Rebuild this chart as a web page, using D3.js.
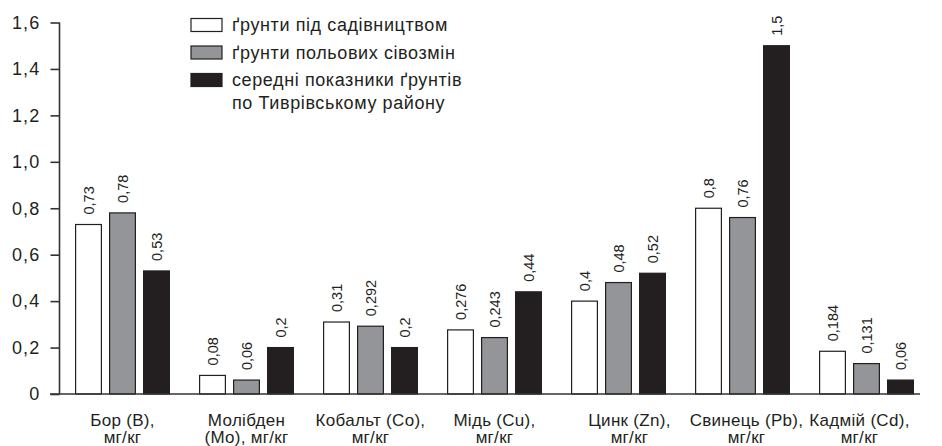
<!DOCTYPE html>
<html><head><meta charset="utf-8">
<script src="https://cdn.jsdelivr.net/npm/d3@7"></script>
<style>
html,body{margin:0;padding:0;background:#fff;}
svg{display:block;}
text{font-family:"Liberation Sans",Arial,sans-serif;fill:#231f20;}
</style></head><body>
<svg id="c" width="942" height="446"></svg>
<script>
const categories = [
  ["Бор (B),", "мг/кг"],
  ["Молібден", "(Mo), мг/кг"],
  ["Кобальт (Co),", "мг/кг"],
  ["Мідь (Cu),", "мг/кг"],
  ["Цинк (Zn),", "мг/кг"],
  ["Свинець (Pb),", "мг/кг"],
  ["Кадмій (Cd),", "мг/кг"]
];
const seriesNames = [
  ["ґрунти під садівництвом"],
  ["ґрунти польових сівозмін"],
  ["середні показники ґрунтів", "по Тиврівському району"]
];
const gardenSoils = [0.73, 0.08, 0.31, 0.276, 0.4, 0.8, 0.184];
const fieldSoils = [0.78, 0.06, 0.292, 0.243, 0.48, 0.76, 0.131];
const districtAvg = [0.53, 0.2, 0.2, 0.44, 0.52, 1.5, 0.06];
const yTicks = [0, 0.2, 0.4, 0.6, 0.8, 1.0, 1.2, 1.4, 1.6];

const series = [gardenSoils, fieldSoils, districtAvg];
const fills = ["#ffffff", "#939598", "#231f20"];
const ink = "#231f20";
// layout: horizontal nudges of category labels (pixels)
const labelNudge = [0, 0, 0, 0, 11, 4, -7];

const svg = d3.select("#c");
const y = d3.scaleLinear().domain([0, 1.6]).range([394, 22.5]);
const x0 = d3.scaleBand().domain(d3.range(categories.length)).range([60.5, 928.5])
  .paddingInner(29/124).paddingOuter(0.5*29/124);
const x1 = d3.scaleBand().domain([0,1,2]).range([0, x0.bandwidth()]).paddingInner(7/34).paddingOuter(0);

const fmt = v => String(v).replace(".", ",");

// y axis
const yAxis = d3.axisLeft(y).tickValues(yTicks).tickSize(9).tickPadding(10)
  .tickFormat(d => d === 0 ? "0" : d3.format(".1f")(d).replace(".", ","));
const gy = svg.append("g").attr("transform", "translate(59.5,0)").call(yAxis);
gy.select(".domain").attr("stroke", "#333").attr("stroke-width", 1.6).attr("d", `M0,${y(1.6)}V${y(0)}`);
gy.selectAll(".tick line").attr("stroke", "#333").attr("stroke-width", 1.6);
gy.selectAll(".tick text").attr("font-size", 18).attr("letter-spacing", "1.2px")
  .attr("font-family", "Liberation Sans, Arial, sans-serif").attr("fill", ink);

// bars
const groups = svg.append("g").selectAll("g").data(categories).join("g")
  .attr("transform", (d, i) => `translate(${x0(i)},0)`);
groups.each(function(c, i) {
  const g = d3.select(this);
  series.forEach((s, k) => {
    const v = s[i];
    g.append("rect")
      .attr("x", x1(k) + 0.6).attr("width", x1.bandwidth() - 1.2)
      .attr("y", y(v)).attr("height", y(0) - y(v))
      .attr("fill", fills[k]).attr("stroke", ink).attr("stroke-width", 1.2);
    const cx = x1(k) + x1.bandwidth() / 2;
    g.append("text")
      .attr("transform", `translate(${cx + 5},${y(v) - 10}) rotate(-90)`)
      .attr("font-size", 14.5).attr("text-anchor", "start")
      .text(fmt(v));
  });
});

// x baseline
svg.append("line").attr("x1", 50).attr("x2", 920).attr("y1", y(0)).attr("y2", y(0))
  .attr("stroke", "#333").attr("stroke-width", 1.6);

// category labels
categories.forEach((lines, i) => {
  const cx = x0(i) + x0.bandwidth() / 2 + labelNudge[i];
  lines.forEach((l, j) => {
    svg.append("text").attr("text-anchor", "middle").attr("font-size", 17)
      .attr("letter-spacing", "0.3px")
      .attr("x", cx).attr("y", 425.5 + j * 17.5).text(l);
  });
});

// legend
const legendRows = [25, 52.5, 80];
seriesNames.forEach((lines, k) => {
  const cy = legendRows[k];
  svg.append("rect").attr("x", 191).attr("y", cy - 6.5).attr("width", 31).attr("height", 13)
    .attr("fill", fills[k]).attr("stroke", ink).attr("stroke-width", 1.2);
  lines.forEach((l, j) => {
    svg.append("text").attr("x", 232).attr("y", cy + 6 + j * 23)
      .attr("font-size", 18).attr("letter-spacing", "0.6px").text(l);
  });
});
</script>
</body></html>
